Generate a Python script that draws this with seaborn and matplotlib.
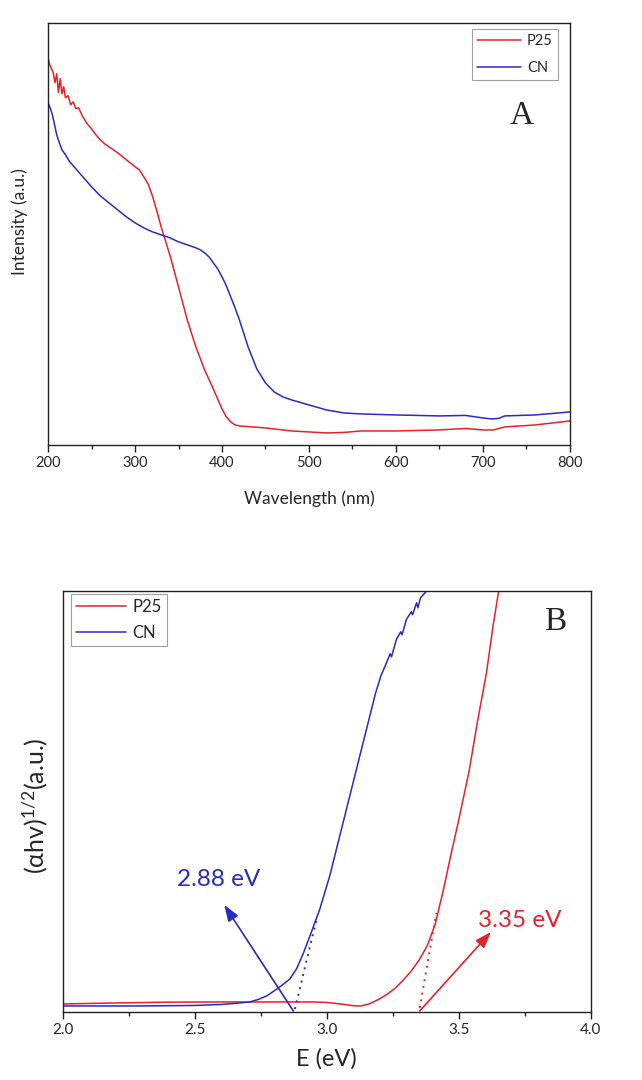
import numpy as np
import pandas as pd
import seaborn as sns
from matplotlib import pyplot as plt
from matplotlib.ticker import MultipleLocator

# panel A: UV-vis spectra (arbitrary units)
wl_p25 = [200, 202, 204, 206, 208, 210, 212, 214, 216, 218, 220, 223, 226, 229, 232, 235,
          240, 245, 250, 255, 260, 265, 270, 280, 290, 300, 305, 310, 315, 320, 325, 330,
          335, 340, 345, 350, 360, 370, 380, 390, 400, 405, 410, 415, 420, 450, 480, 500,
          520, 540, 560, 600, 650, 680, 700, 712, 725, 760, 800]
int_p25 = [387, 380, 376, 372, 362, 371, 352, 366, 351, 358, 347, 349, 340, 343, 336, 337,
           328, 321, 316, 310, 305, 301, 298, 292, 285, 278, 275, 268, 261, 249, 234, 218,
           204, 190, 174, 158, 125, 98, 75, 56, 36, 28, 23, 20, 19, 17, 14, 13,
           12, 12.5, 14, 14, 15, 16.5, 15, 15, 18, 20, 24]
wl_cn = [200, 202, 205, 208, 210, 213, 216, 220, 225, 230, 240, 250, 260, 270, 280, 290,
         300, 310, 320, 330, 340, 350, 360, 370, 375, 380, 385, 390, 395, 400, 405, 410,
         415, 420, 430, 440, 450, 460, 470, 480, 500, 520, 540, 560, 600, 650, 680, 700,
         710, 718, 725, 760, 800]
int_cn = [342, 338, 330, 318, 310, 302, 295, 290, 283, 278, 268, 258, 249, 242, 235, 228,
          222, 217, 213, 210, 207, 203, 200, 197, 195, 192, 188, 182, 176, 168, 159, 148,
          137, 125, 98, 76, 62, 53, 48, 45, 40, 35, 32, 31, 30, 29, 29.5, 27,
          26, 26.5, 29, 30, 33]

# panel B: Tauc plot
e_p25 = [2.0, 2.2, 2.4, 2.6, 2.8, 2.95, 3.0, 3.05, 3.1, 3.13, 3.16, 3.2, 3.23, 3.26, 3.29,
         3.32, 3.35, 3.38, 3.41, 3.44, 3.47, 3.50, 3.54, 3.57, 3.605, 3.63, 3.652, 3.67]
tauc_p25 = [8, 9, 9.8, 10, 10, 10, 9.5, 8, 6.3, 6, 8, 13, 18, 24, 32,
            41, 52, 66, 87, 120, 157, 192, 242, 289, 339, 386, 422, 450]
e_cn = [2.0, 2.3, 2.5, 2.6, 2.65, 2.708, 2.74, 2.772, 2.80, 2.834, 2.86, 2.885, 2.91, 2.936,
        2.973, 3.011, 3.049, 3.087, 3.125, 3.163, 3.185, 3.205, 3.226, 3.24, 3.245, 3.264,
        3.28, 3.285, 3.302, 3.32, 3.325, 3.34, 3.345, 3.355, 3.384, 3.40]
tauc_cn = [6, 6, 6.5, 7.5, 8.5, 10, 12.5, 16, 21, 27.5, 33, 43, 58, 76,
           102.5, 136, 176, 216, 256, 296, 319, 336, 349, 358, 355, 372.5,
           380, 377, 392.5, 400, 397, 409, 404, 414, 422.5, 430]

# extrapolated band edges and labels
cn_tangent_e = [2.879, 2.961]
cn_tangent_y = [3, 92.5]
p25_tangent_e = [3.352, 3.415]
p25_tangent_y = [4, 99]
gap_labels = ["2.88 eV", "3.35 eV"]

red = "#e3222b"
blue = "#2a2ac0"

sns.set_theme(style="white")
plt.rcParams['font.family'] = ['Lato', 'DejaVu Sans']
plt.rcParams['mathtext.fontset'] = 'custom'
plt.rcParams['mathtext.rm'] = 'Lato'
plt.rcParams['mathtext.it'] = 'Lato'

fig = plt.figure(figsize=(6.42, 10.8), dpi=100)
ax1 = fig.add_axes([0.0748, 0.588, 0.813, 0.391])
ax2 = fig.add_axes([0.0981, 0.063, 0.822, 0.390])

df_a = pd.concat([
    pd.DataFrame({"x": wl_p25, "y": int_p25, "sample": "P25"}),
    pd.DataFrame({"x": wl_cn, "y": int_cn, "sample": "CN"}),
])
sns.lineplot(data=df_a, x="x", y="y", hue="sample", palette={"P25": red, "CN": blue},
             sort=False, estimator=None, lw=1.1, ax=ax1)
ax1.set_xlim(200, 800)
ax1.set_ylim(0, 422)
ax1.xaxis.set_major_locator(MultipleLocator(100))
ax1.xaxis.set_minor_locator(MultipleLocator(50))
ax1.set_yticks([])
ax1.set_xlabel("Wavelength (nm)", fontsize=12.5, labelpad=15)
ax1.set_ylabel("Intensity (a.u.)", fontsize=12.5)
ax1.yaxis.set_label_coords(-0.038, 0.53)
ax1.text(745, 329, "A", family="Liberation Serif", fontsize=24, ha="center", va="center")
leg = ax1.legend(loc="upper right", bbox_to_anchor=(0.977, 0.986), borderaxespad=0,
                 fontsize=10.5, handlelength=3.0, handletextpad=0.4, labelspacing=0.9,
                 borderpad=0.35, fancybox=False, framealpha=1, edgecolor="#a0a0a0")
leg.get_frame().set_linewidth(0.8)

df_b = pd.concat([
    pd.DataFrame({"x": e_p25, "y": tauc_p25, "sample": "P25"}),
    pd.DataFrame({"x": e_cn, "y": tauc_cn, "sample": "CN"}),
])
sns.lineplot(data=df_b, x="x", y="y", hue="sample", palette={"P25": red, "CN": blue},
             sort=False, estimator=None, lw=1.1, ax=ax2)
ax2.plot(cn_tangent_e, cn_tangent_y, ls=(0, (1, 2.5)), color=blue, lw=1.4)
ax2.plot(p25_tangent_e, p25_tangent_y, ls=(0, (1, 2.5)), color=red, lw=1.4)
ax2.set_xlim(2.0, 4.0)
ax2.set_ylim(0, 421)
ax2.xaxis.set_major_locator(MultipleLocator(0.5))
ax2.xaxis.set_minor_locator(MultipleLocator(0.25))
ax2.set_yticks([])
ax2.set_xlabel("E (eV)", fontsize=17, labelpad=8)
ax2.set_ylabel(r"(αhv)$^{1/2}$(a.u.)", fontsize=18)
ax2.yaxis.set_label_coords(-0.024, 0.49)
ax2.text(3.864, 390, "B", family="Liberation Serif", fontsize=24, ha="center", va="center")

arrow = dict(arrowstyle="-|>,head_length=0.7,head_width=0.25", lw=1.2,
             shrinkA=0, shrinkB=0, mutation_scale=14)
ax2.annotate("", xy=(2.611, 107), xytext=(2.873, 1), arrowprops=dict(arrow, color=blue))
ax2.annotate("", xy=(3.622, 80), xytext=(3.352, 1), arrowprops=dict(arrow, color=red))
ax2.text(2.432, 132, gap_labels[0], color=blue, fontsize=17.5, ha="left", va="center")
ax2.text(3.572, 91, gap_labels[1], color=red, fontsize=17.5, ha="left", va="center")
leg = ax2.legend(loc="upper left", bbox_to_anchor=(0.015, 0.993), borderaxespad=0,
                 fontsize=12, handlelength=3.0, handletextpad=0.4, labelspacing=0.6,
                 borderpad=0.3, fancybox=False, framealpha=1, edgecolor="#a0a0a0")
leg.get_frame().set_linewidth(0.8)

for ax in (ax1, ax2):
    for sp in ax.spines.values():
        sp.set_visible(True)
        sp.set_color("#222222")
        sp.set_linewidth(1.0)
    ax.tick_params(axis="x", which="major", direction="out", length=5, width=1,
                   color="#222222", bottom=True, pad=3)
    ax.tick_params(axis="x", which="minor", direction="out", length=3, width=1,
                   color="#222222", bottom=True)
ax1.tick_params(axis="x", labelsize=10.5)
ax2.tick_params(axis="x", labelsize=11)

fig.savefig("out.png", dpi=100)
